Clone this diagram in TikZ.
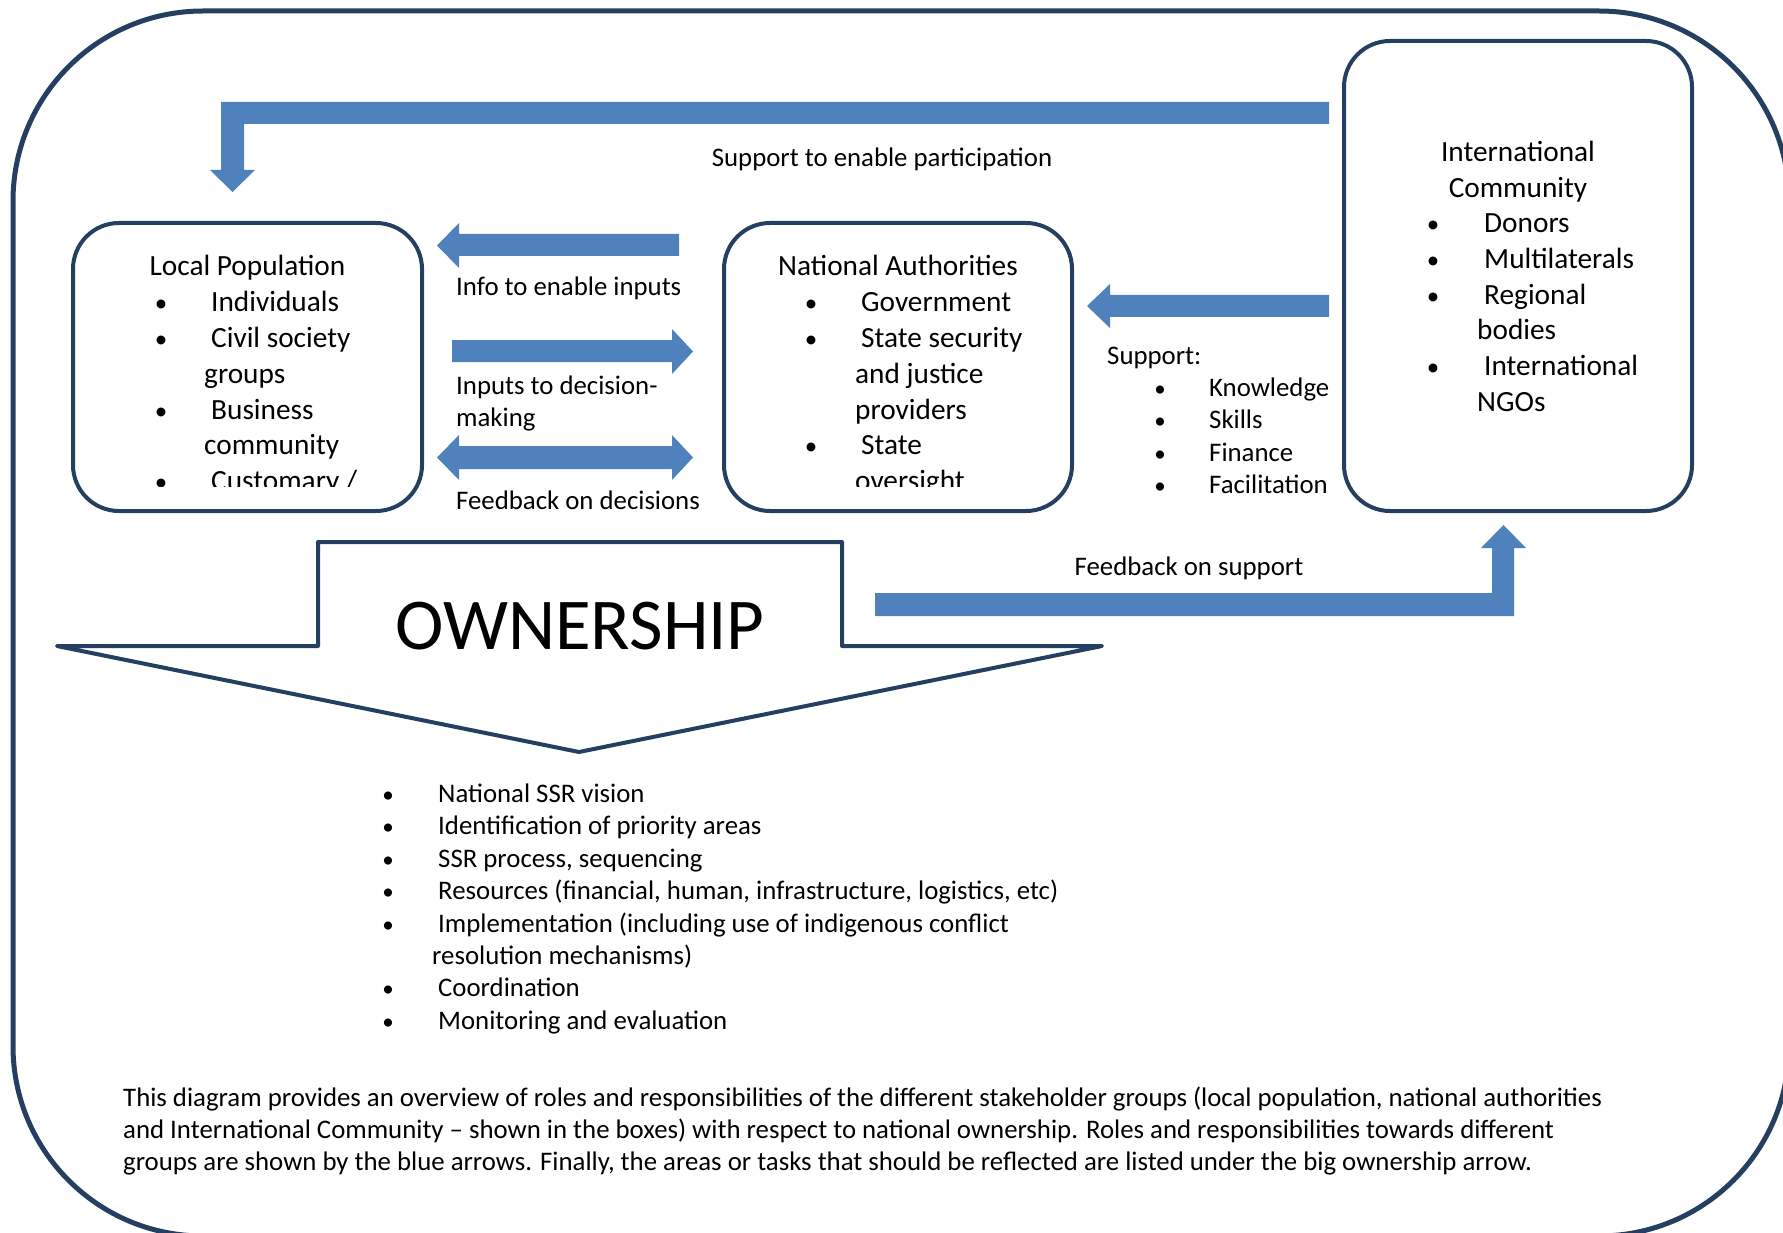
\documentclass[tikz,border=0pt]{standalone}
\usepackage{fontspec}
\setmainfont{Carlito}
\definecolor{framenavy}{HTML}{243F60}
\definecolor{arrowblue}{HTML}{4F81BD}
\begin{document}
\begin{tikzpicture}[x=1pt,y=-1pt,
  frame/.style={draw=framenavy,line width=5pt},
  box/.style={draw=framenavy,line width=4pt,rounded corners=46pt,inner sep=0pt,fill=white},
  blockarrow/.style={fill=arrowblue,draw=none},
  ownarrow/.style={draw=framenavy,line width=4pt,fill=white,line join=round},
  boxtext/.style={font=\fontsize{29.3}{35.7}\selectfont,inner sep=0pt},
  item/.style={boxtext,anchor=base west},
  dot/.style={font=\fontsize{25}{30}\selectfont,inner sep=0pt,anchor=base},
  lbl/.style={font=\fontsize{26.8}{32.4}\selectfont,inner sep=0pt,anchor=base west},
  ldot/.style={font=\fontsize{23}{28}\selectfont,inner sep=0pt,anchor=base},
  bigtitle/.style={font=\fontsize{73}{80}\selectfont,inner sep=0pt,anchor=base}
]
\useasboundingbox (0,0) rectangle (1783,1233);
\clip (0,0) rectangle (1783,1233);

% outer frame
\draw[frame,rounded corners=190pt] (13,11) rectangle (1789,1236);

% stakeholder boxes
\node[box,minimum width=349pt,minimum height=288pt] (lp) at (247.5,367) {};
\node[box,minimum width=348pt,minimum height=288pt] (na) at (898,367) {};
\node[box,minimum width=348pt,minimum height=470pt] (ic) at (1518,276) {};

% box contents (lower lines run past the text area)
\begin{scope}
\clip (73,223) rectangle (1072,486);
\node[boxtext,anchor=base] (lpT) at (247.5,276) {Local Population};
\node[dot] (lpb1) at (161,312) {\textbullet};
\node[item] (lp1) at (211,312) {Individuals};
\node[dot] (lpb2) at (161,347.7) {\textbullet};
\node[item] (lp2) at (211,347.7) {Civil society};
\node[item] (lp2b) at (204,383.4) {groups};
\node[dot] (lpb3) at (161,419.1) {\textbullet};
\node[item] (lp3) at (211,419.1) {Business};
\node[item] (lp3b) at (204,454.8) {community};
\node[dot] (lpb4) at (161,490.5) {\textbullet};
\node[item] (lp4) at (211,490.5) {Customary /};

\node[boxtext,anchor=base] (naT) at (898,276) {National Authorities};
\node[dot] (nab1) at (811,312) {\textbullet};
\node[item] (na1) at (861,312) {Government};
\node[dot] (nab2) at (811,347.7) {\textbullet};
\node[item] (na2) at (861,347.7) {State security};
\node[item] (na2b) at (855,383.4) {and justice};
\node[item] (na2c) at (855,419.1) {providers};
\node[dot] (nab3) at (811,454.8) {\textbullet};
\node[item] (na3) at (861,454.8) {State};
\node[item] (na3b) at (855,490.5) {oversight};
\end{scope}

\node[boxtext,anchor=base] (icT1) at (1518,161.5) {International};
\node[boxtext,anchor=base] (icT2) at (1518,197.2) {Community};
\node[dot] (icb1) at (1433,232.9) {\textbullet};
\node[item] (ic1) at (1484,232.9) {Donors};
\node[dot] (icb2) at (1433,268.6) {\textbullet};
\node[item] (ic2) at (1484,268.6) {Multilaterals};
\node[dot] (icb3) at (1433,304.3) {\textbullet};
\node[item] (ic3) at (1484,304.3) {Regional};
\node[item] (ic3b) at (1477,340) {bodies};
\node[dot] (icb4) at (1433,375.7) {\textbullet};
\node[item] (ic4) at (1484,375.7) {International};
\node[item] (ic4b) at (1477,411.4) {NGOs};

% block arrows
\fill[blockarrow] (1329,102) -- (221,102) -- (221,170) -- (210,170) -- (232.5,192)
  -- (255,170) -- (244,170) -- (244,124) -- (1329,124) -- cycle;
\fill[blockarrow] (679,234) -- (459,234) -- (459,223) -- (437,245.5) -- (459,268)
  -- (459,256) -- (679,256) -- cycle;
\fill[blockarrow] (452,340) -- (672,340) -- (672,329) -- (693,351.5) -- (672,374)
  -- (672,362) -- (452,362) -- cycle;
\fill[blockarrow] (459,446) -- (672,446) -- (672,435) -- (693,457.5) -- (672,480)
  -- (672,469) -- (459,469) -- (459,480) -- (437,457.5) -- (459,435) -- cycle;
\fill[blockarrow] (1329,295) -- (1110,295) -- (1110,284) -- (1087,306) -- (1110,328)
  -- (1110,317) -- (1329,317) -- cycle;
\fill[blockarrow] (875,593) -- (1492,593) -- (1492,548) -- (1481,548) -- (1503.5,525)
  -- (1526,548) -- (1514,548) -- (1514,616) -- (875,616) -- cycle;

% arrow labels
\node[lbl,anchor=base] (lSup) at (882,167) {Support to enable participation};
\node[lbl] (lInfo) at (456,295.5) {Info to enable inputs};
\node[lbl] (lIn1) at (456,394) {Inputs to decision-};
\node[lbl] (lIn2) at (456,426.4) {making};
\node[lbl] (lFb) at (456,509) {Feedback on decisions};
\node[lbl] (lS) at (1107,364) {Support:};
\node[ldot] (lSb1) at (1160,396.4) {\textbullet};
\node[lbl] (lS1) at (1209,396.4) {Knowledge};
\node[ldot] (lSb2) at (1160,428.8) {\textbullet};
\node[lbl] (lS2) at (1209,428.8) {Skills};
\node[ldot] (lSb3) at (1160,461.2) {\textbullet};
\node[lbl] (lS3) at (1209,461.2) {Finance};
\node[ldot] (lSb4) at (1160,493.6) {\textbullet};
\node[lbl] (lS4) at (1209,493.6) {Facilitation};
\node[lbl,anchor=base] (lFs) at (1189,575.5) {Feedback on support};

% ownership arrow
\draw[ownarrow] (318,542) -- (842,542) -- (842,646) -- (1102,646) -- (579,752)
  -- (57,646) -- (318,646) -- cycle;
\node[bigtitle] (own) at (580,649) {OWNERSHIP};

% areas listed under the ownership arrow
\node[ldot] (ob1) at (388,802.5) {\textbullet};
\node[lbl] (o1) at (438,802.5) {National SSR vision};
\node[ldot] (ob2) at (388,834.9) {\textbullet};
\node[lbl] (o2) at (438,834.9) {Identification of priority areas};
\node[ldot] (ob3) at (388,867.3) {\textbullet};
\node[lbl] (o3) at (438,867.3) {SSR process, sequencing};
\node[ldot] (ob4) at (388,899.7) {\textbullet};
\node[lbl] (o4) at (438,899.7) {Resources (financial, human, infrastructure, logistics, etc)};
\node[ldot] (ob5) at (388,932.1) {\textbullet};
\node[lbl] (o5) at (438,932.1) {Implementation (including use of indigenous conflict};
\node[lbl] (o5b) at (432,964.5) {resolution mechanisms)};
\node[ldot] (ob6) at (388,996.9) {\textbullet};
\node[lbl] (o6) at (438,996.9) {Coordination};
\node[ldot] (ob7) at (388,1029.3) {\textbullet};
\node[lbl] (o7) at (438,1029.3) {Monitoring and evaluation};

% explanatory note
\node[lbl] (n1) at (123,1106) {This diagram provides an overview of roles and responsibilities of the different stakeholder groups (local population, national authorities};
\node[lbl] (n2) at (123,1138.4) {and International Community – shown in the boxes) with respect to national ownership. Roles and responsibilities towards different};
\node[lbl] (n3) at (123,1170.8) {groups are shown by the blue arrows. Finally, the areas or tasks that should be reflected are listed under the big ownership arrow.};
\end{tikzpicture}
\end{document}
